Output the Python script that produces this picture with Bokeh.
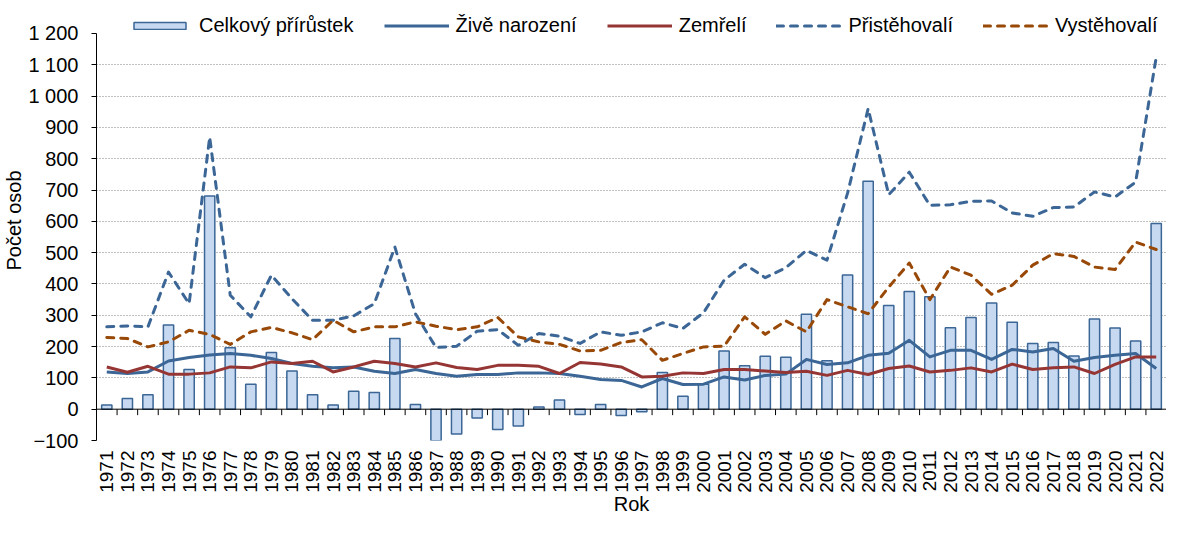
from bokeh.plotting import figure
from bokeh.models import Range1d, FixedTicker, Span, Legend, LegendItem, ColumnDataSource
from bokeh.embed import file_html
from bokeh.resources import INLINE

years = list(range(1971, 2023))

celkovy_prirustek = [13, 34, 46, 269, 127, 681, 196, 80, 181, 122,
                     46, 13, 57, 53, 226, 15, -101, -79, -28, -65,
                     -54, 7, 29, -17, 15, -20, -8, 117, 41, 80,
                     186, 139, 169, 166, 303, 155, 429, 728, 331, 376,
                     359, 260, 293, 339, 278, 210, 213, 170, 288, 259,
                     218, 593]

zive_narozeni = [119, 114, 119, 154, 165, 173, 178, 172, 162, 146,
                 137, 132, 135, 121, 114, 127, 114, 105, 111, 111,
                 116, 116, 114, 105, 95, 92, 71, 98, 79, 80,
                 103, 93, 108, 112, 159, 143, 148, 172, 179, 220,
                 167, 188, 188, 159, 191, 183, 194, 153, 165, 172,
                 178, 130]

zemreli = [135, 118, 137, 112, 112, 116, 135, 132, 151, 146,
           153, 119, 135, 153, 146, 135, 148, 133, 127, 140,
           140, 137, 114, 149, 144, 135, 103, 105, 116, 114,
           127, 127, 122, 117, 121, 108, 124, 111, 130, 138,
           119, 124, 132, 119, 144, 127, 132, 135, 114, 143,
           167, 167]

pristehovali = [263, 266, 263, 438, 337, 869, 364, 295, 428, 353,
                284, 284, 298, 337, 518, 305, 197, 201, 249, 254,
                204, 242, 233, 210, 247, 236, 247, 276, 258, 308,
                412, 463, 420, 452, 507, 476, 690, 960, 685, 757,
                651, 653, 664, 665, 627, 616, 644, 646, 694, 678,
                725, 1124]

vystehovali = [229, 226, 199, 215, 252, 239, 207, 247, 261, 244,
               222, 284, 247, 263, 263, 279, 265, 254, 263, 293,
               231, 215, 207, 186, 188, 213, 222, 156, 178, 199,
               201, 295, 239, 282, 247, 350, 327, 305, 390, 467,
               350, 454, 428, 367, 396, 460, 497, 488, 454, 446,
               534, 510]

y_ticks = list(range(-100, 1201, 100))
y_labels = {1000: "1 000", 1100: "1 100", 1200: "1 200"}

series_names = ["Celkový přírůstek", "Živě narození", "Zemřelí", "Přistěhovalí", "Vystěhovalí"]

FONT = "Liberation Sans"
BLUE = "#3b6696"
RED = "#963634"
ORANGE = "#984807"
BAR_FILL = "#c6d9f1"

src = ColumnDataSource(dict(year=years, celk=celkovy_prirustek, naroz=zive_narozeni,
                            zem=zemreli, pri=pristehovali, vys=vystehovali))

# frame reaches the top of the canvas so the legend fits inside it;
# the axis itself is bounded to -100..1200
p = figure(width=1166, height=518, output_backend="svg", toolbar_location=None,
           x_range=Range1d(1970.5, 2022.5), y_range=Range1d(-100, 1305.4),
           min_border_left=85, min_border_right=0, min_border_top=0, min_border_bottom=78)
p.outline_line_color = None
p.background_fill_color = "white"
p.border_fill_color = "white"

# grid
p.xgrid.grid_line_color = None
p.ygrid.ticker = FixedTicker(ticks=[t for t in y_ticks if t not in (0, 1200)])
p.ygrid.grid_line_color = "#808080"
p.ygrid.grid_line_dash = "1 2"
p.ygrid.grid_line_width = 1

# x axis
p.xaxis.ticker = FixedTicker(ticks=years)
p.xaxis.major_label_overrides = {y: str(y) for y in years}
p.xaxis.major_label_orientation = 1.5707963
p.xaxis.axis_line_color = None
p.xaxis.major_tick_line_color = None
p.xaxis.minor_tick_line_color = None
p.xaxis.major_tick_out = 0
p.xaxis.major_tick_in = 0
p.xaxis.major_label_standoff = 10
p.xaxis.major_label_text_font = FONT
p.xaxis.major_label_text_font_size = "19px"
p.xaxis.major_label_text_color = "black"
p.xaxis.axis_label = "Rok"
p.xaxis.axis_label_standoff = -3
p.xaxis.axis_label_text_font = FONT
p.xaxis.axis_label_text_font_size = "20px"
p.xaxis.axis_label_text_font_style = "normal"
p.xaxis.axis_label_text_color = "black"

# y axis
p.yaxis.ticker = FixedTicker(ticks=y_ticks)
p.yaxis.bounds = (-100, 1200)
p.yaxis.major_label_overrides = y_labels
p.yaxis.axis_line_color = "black"
p.yaxis.major_tick_line_color = "black"
p.yaxis.minor_tick_line_color = None
p.yaxis.major_tick_out = 5
p.yaxis.major_tick_in = 0
p.yaxis.major_label_standoff = 13
p.yaxis.major_label_text_font = FONT
p.yaxis.major_label_text_font_size = "20px"
p.yaxis.major_label_text_color = "black"
p.yaxis.axis_label = "Počet osob"
p.yaxis.axis_label_standoff = 0
p.yaxis.axis_label_text_font = FONT
p.yaxis.axis_label_text_font_size = "20px"
p.yaxis.axis_label_text_font_style = "normal"
p.yaxis.axis_label_text_color = "black"

# bars
r_bar = p.vbar(x="year", top="celk", bottom=0, width=0.5, source=src,
               fill_color=BAR_FILL, line_color=BLUE, line_width=1.5)

# zero axis line and category ticks
p.add_layout(Span(location=0, dimension="width", line_color="black", line_width=1))
tick_x = [y + 0.5 for y in years[:-1]]
p.segment(x0=tick_x, y0=[0] * len(tick_x), x1=tick_x, y1=[-19] * len(tick_x),
          line_color="black", line_width=1)

# lines
r_nar = p.line("year", "naroz", source=src, line_color=BLUE, line_width=3, line_join="round")
r_zem = p.line("year", "zem", source=src, line_color=RED, line_width=3, line_join="round")
r_pri = p.line("year", "pri", source=src, line_color=BLUE, line_width=3, line_join="round",
               line_dash="7 7", line_cap="round")
r_vys = p.line("year", "vys", source=src, line_color=ORANGE, line_width=3, line_join="round",
               line_dash="7 7", line_cap="round")

legend = Legend(items=[LegendItem(label=n, renderers=[r]) for n, r in
                       zip(series_names, [r_bar, r_nar, r_zem, r_pri, r_vys])],
                orientation="horizontal", location=(31, 403),
                label_text_font=FONT, label_text_font_size="20px", label_text_color="black",
                glyph_width=65, glyph_height=9, label_standoff=7, spacing=30,
                padding=0, margin=0, label_height=20,
                border_line_color=None, background_fill_alpha=0)
p.add_layout(legend)

open("out.html", "w").write(file_html(p, INLINE))
